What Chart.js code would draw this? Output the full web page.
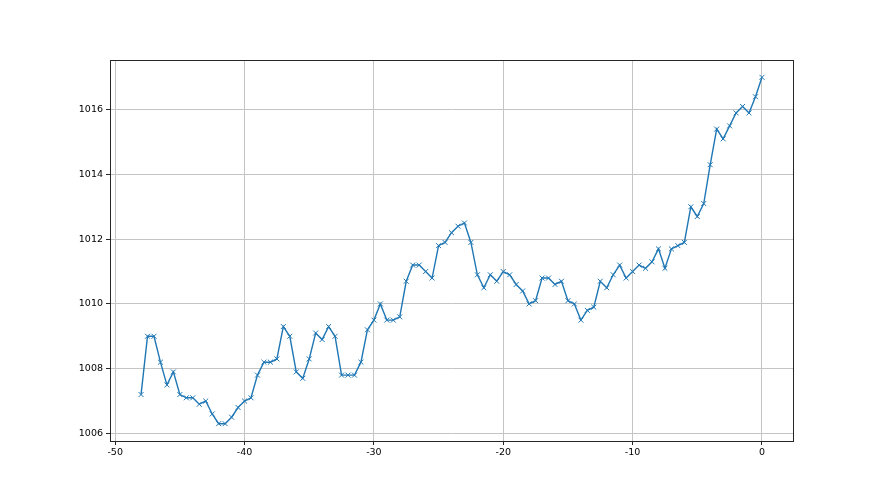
<!DOCTYPE html>
<html>
<head>
<meta charset="utf-8">
<script src="https://cdn.jsdelivr.net/npm/chart.js@4/dist/chart.umd.min.js"></script>
<style>
  html, body { margin: 0; padding: 0; background: #fff; }
  #wrap { width: 880px; height: 495px; }
</style>
</head>
<body>
<div id="wrap"><canvas id="myChart"></canvas></div>
<script>
// x positions: -48 .. 0 in half steps
const xValues = [
  -48, -47.5, -47, -46.5, -46, -45.5, -45, -44.5, -44, -43.5,
  -43, -42.5, -42, -41.5, -41, -40.5, -40, -39.5, -39, -38.5,
  -38, -37.5, -37, -36.5, -36, -35.5, -35, -34.5, -34, -33.5,
  -33, -32.5, -32, -31.5, -31, -30.5, -30, -29.5, -29, -28.5,
  -28, -27.5, -27, -26.5, -26, -25.5, -25, -24.5, -24, -23.5,
  -23, -22.5, -22, -21.5, -21, -20.5, -20, -19.5, -19, -18.5,
  -18, -17.5, -17, -16.5, -16, -15.5, -15, -14.5, -14, -13.5,
  -13, -12.5, -12, -11.5, -11, -10.5, -10, -9.5, -9, -8.5,
  -8, -7.5, -7, -6.5, -6, -5.5, -5, -4.5, -4, -3.5,
  -3, -2.5, -2, -1.5, -1, -0.5, 0
];
// pressure readings
const yValues = [
  1007.2, 1009.0, 1009.0, 1008.2, 1007.5, 1007.9, 1007.2, 1007.1, 1007.1, 1006.9,
  1007.0, 1006.6, 1006.3, 1006.3, 1006.5, 1006.8, 1007.0, 1007.1, 1007.8, 1008.2,
  1008.2, 1008.3, 1009.3, 1009.0, 1007.9, 1007.7, 1008.3, 1009.1, 1008.9, 1009.3,
  1009.0, 1007.8, 1007.8, 1007.8, 1008.2, 1009.2, 1009.5, 1010.0, 1009.5, 1009.5,
  1009.6, 1010.7, 1011.2, 1011.2, 1011.0, 1010.8, 1011.8, 1011.9, 1012.2, 1012.4,
  1012.5, 1011.9, 1010.9, 1010.5, 1010.9, 1010.7, 1011.0, 1010.9, 1010.6, 1010.4,
  1010.0, 1010.1, 1010.8, 1010.8, 1010.6, 1010.7, 1010.1, 1010.0, 1009.5, 1009.8,
  1009.9, 1010.7, 1010.5, 1010.9, 1011.2, 1010.8, 1011.0, 1011.2, 1011.1, 1011.3,
  1011.7, 1011.1, 1011.7, 1011.8, 1011.9, 1013.0, 1012.7, 1013.1, 1014.3, 1015.4,
  1015.1, 1015.5, 1015.9, 1016.1, 1015.9, 1016.4, 1017.0
];
const xTicks = [-50, -40, -30, -20, -10, 0];
const yTicks = [1006, 1008, 1010, 1012, 1014, 1016];

// draw the matplotlib-like box round the plot area
const frame = {
  id: 'frame',
  afterDraw(chart) {
    const a = chart.chartArea, c = chart.ctx;
    c.save();
    c.strokeStyle = '#262626';
    c.lineWidth = 1;
    c.strokeRect(Math.round(a.left) + 0.5, Math.round(a.top) + 0.5,
                 Math.round(a.right - a.left), Math.round(a.bottom - a.top));
    c.restore();
  }
};

const tickFont = { family: 'DejaVu Sans', size: 9.5 };

new Chart(document.getElementById('myChart'), {
  type: 'line',
  data: {
    datasets: [{
      data: xValues.map((x, i) => ({ x: x, y: yValues[i] })),
      borderColor: '#1f77b4',
      backgroundColor: '#1f77b4',
      borderWidth: 1.4,
      pointStyle: 'crossRot',
      pointRadius: 3.5,
      pointBorderWidth: 1,
      tension: 0,
      fill: false
    }]
  },
  plugins: [frame],
  options: {
    responsive: true,
    maintainAspectRatio: false,
    animation: false,
    layout: { padding: { left: 0, top: 60, right: 87, bottom: 0 } },
    plugins: { legend: { display: false }, tooltip: { enabled: false } },
    scales: {
      x: {
        type: 'linear',
        min: -50.4,
        max: 2.4,
        afterBuildTicks: ax => { ax.ticks = xTicks.map(v => ({ value: v })); },
        afterFit: ax => { ax.height = 54; },
        grid: { color: '#c4c4c4', lineWidth: 1, tickColor: '#262626', tickLength: 4 },
        border: { display: false },
        ticks: { color: '#000', font: tickFont, padding: 2, maxRotation: 0, callback: v => String(v) }
      },
      y: {
        min: 1005.765,
        max: 1017.535,
        afterBuildTicks: ax => { ax.ticks = yTicks.map(v => ({ value: v })); },
        afterFit: ax => { ax.width = 110; },
        grid: { color: '#c4c4c4', lineWidth: 1, tickColor: '#262626', tickLength: 4 },
        border: { display: false },
        ticks: { color: '#000', font: tickFont, padding: 3, callback: v => String(v) }
      }
    }
  }
});
</script>
</body>
</html>
